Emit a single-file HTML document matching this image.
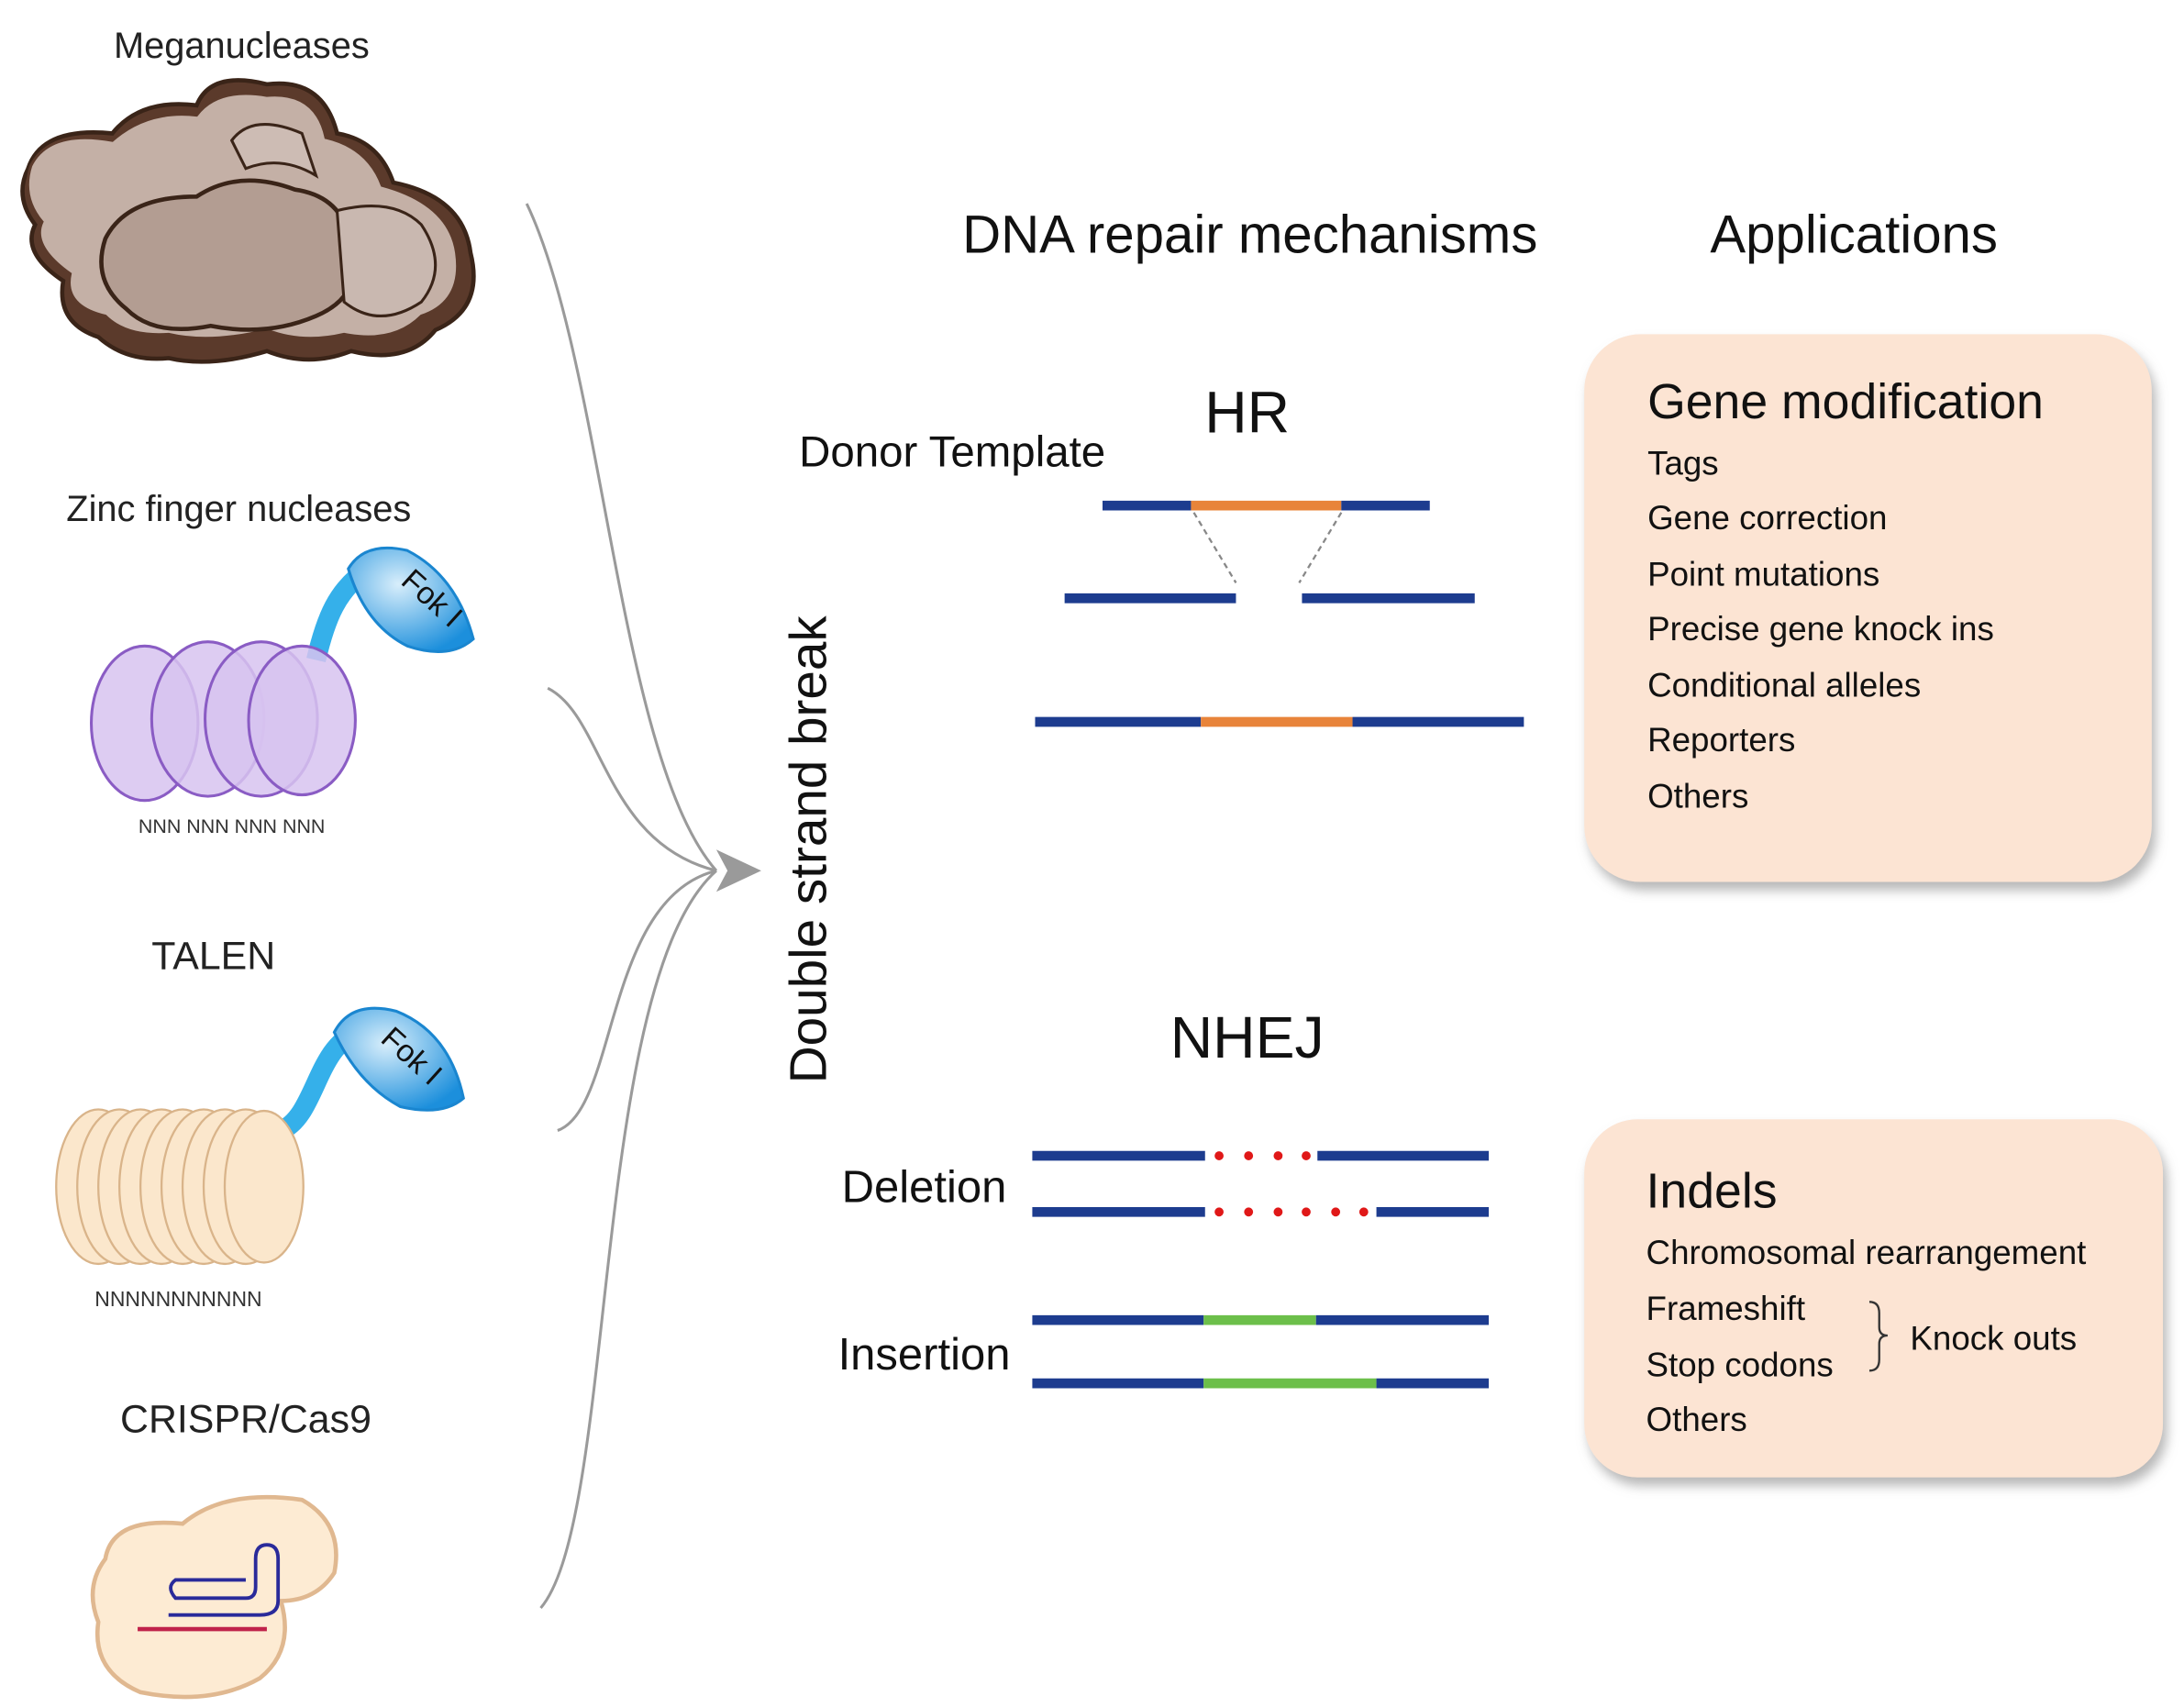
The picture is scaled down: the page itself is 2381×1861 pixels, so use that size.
<!DOCTYPE html>
<html><head><meta charset="utf-8"><style>
html,body{margin:0;padding:0;background:#fff;width:2381px;height:1861px;overflow:hidden}
svg{display:block}
text{font-family:"Liberation Sans",sans-serif}
</style></head><body>
<svg width="2381" height="1861" viewBox="0 0 1555 1215.5" preserveAspectRatio="none" xmlns="http://www.w3.org/2000/svg">
<defs>
<filter id="sh" x="-10%" y="-10%" width="125%" height="130%"><feDropShadow dx="3" dy="6" stdDeviation="4" flood-color="#888" flood-opacity="0.6"/></filter>
<radialGradient id="fok" cx="40%" cy="35%" r="70%"><stop offset="0" stop-color="#d8eefb"/><stop offset="1" stop-color="#1c8fdc"/></radialGradient>
</defs>
<text x="172" y="41" font-size="26" text-anchor="middle" fill="#222">Meganucleases</text>
<text x="170" y="371" font-size="26" text-anchor="middle" fill="#222">Zinc finger nucleases</text>
<text x="152" y="690" font-size="28" text-anchor="middle" fill="#222">TALEN</text>
<text x="175" y="1020" font-size="28" text-anchor="middle" fill="#222">CRISPR/Cas9</text>

<g stroke="#3a2418" stroke-width="3">
<path d="M20 120 Q30 90 80 95 Q100 70 140 75 Q150 50 190 60 Q230 55 240 95 Q270 100 280 130 Q330 140 335 180 Q345 220 310 235 Q290 260 250 250 Q220 262 190 250 Q150 262 120 255 Q90 258 70 240 Q40 230 45 200 Q15 180 25 160 Q10 140 20 120Z" fill="#5b3a2b"/>
<path d="M22 118 Q35 92 80 100 Q105 78 140 82 Q155 62 190 68 Q225 65 232 98 Q262 105 272 132 Q320 145 325 180 Q330 215 300 225 Q280 245 245 238 Q215 245 190 235 Q150 245 120 238 Q90 240 75 225 Q45 218 50 195 Q22 175 30 158 Q15 140 22 118Z" fill="#c4b0a6" stroke="#5b3a2b" stroke-width="2"/>
<path d="M75 170 Q90 140 140 140 Q170 120 210 135 Q245 140 250 175 Q260 210 225 225 Q190 240 150 232 Q110 240 90 220 Q65 200 75 170Z" fill="#b39d92" stroke="#3a2418"/>
<path d="M165 100 Q180 80 215 95 L225 125 Q200 110 175 120Z" fill="#cdbcb4" stroke="#3a2418" stroke-width="2"/>
<path d="M240 150 Q280 140 300 160 Q320 190 300 215 Q270 235 245 215Z" fill="#c9b8b0" stroke="#3a2418" stroke-width="2"/>
</g>

<path d="M225 470 C232 440 240 420 262 405" stroke="#35b0ea" stroke-width="14" fill="none"/>
<path d="M248 405 Q260 385 290 392 Q325 410 337 455 Q320 470 290 460 Q260 445 248 405Z" fill="url(#fok)" stroke="#1a86d0" stroke-width="2"/>
<text x="278" y="418" font-size="22" fill="#111" transform="rotate(42 285 425)">Fok I</text>
<g fill="#d7c3f0" fill-opacity="0.85" stroke="#8a5cc4" stroke-width="2">
<ellipse cx="103" cy="515" rx="38" ry="55"/>
<ellipse cx="148" cy="512" rx="40" ry="55"/>
<ellipse cx="186" cy="512" rx="40" ry="55"/>
<ellipse cx="215" cy="513" rx="38" ry="53"/>
</g>
<text x="165" y="593" font-size="14" text-anchor="middle" fill="#333">NNN NNN NNN NNN</text>

<path d="M200 805 C225 795 225 745 255 735" stroke="#35b0ea" stroke-width="14" fill="none"/>
<path d="M238 735 Q250 712 282 720 Q320 735 330 782 Q315 795 285 788 Q255 772 238 735Z" fill="url(#fok)" stroke="#1a86d0" stroke-width="2"/>
<text x="262" y="748" font-size="22" fill="#111" transform="rotate(42 275 755)">Fok I</text>
<g fill="#fbe7cc" stroke="#d9b48a" stroke-width="1.5">
<ellipse cx="70" cy="845" rx="30" ry="55"/><ellipse cx="85" cy="845" rx="30" ry="55"/><ellipse cx="100" cy="845" rx="30" ry="55"/><ellipse cx="115" cy="845" rx="30" ry="55"/><ellipse cx="130" cy="845" rx="30" ry="55"/><ellipse cx="145" cy="845" rx="30" ry="55"/><ellipse cx="160" cy="845" rx="30" ry="55"/><ellipse cx="175" cy="845" rx="30" ry="55"/><ellipse cx="188" cy="845" rx="28" ry="54"/>
</g>
<text x="127" y="930" font-size="15" text-anchor="middle" fill="#333">NNNNNNNNNNN</text>

<path d="M75 1110 Q80 1080 130 1085 Q160 1060 215 1068 Q245 1085 238 1120 Q225 1140 200 1140 Q210 1175 185 1195 Q150 1215 100 1205 Q65 1190 70 1155 Q60 1130 75 1110Z" fill="#fdebd3" stroke="#e0b890" stroke-width="3"/>
<path d="M98 1160 L190 1160" stroke="#c0224a" stroke-width="3"/>
<path d="M120 1150 L185 1150 Q198 1150 198 1140 L198 1110 Q198 1100 190 1100 Q182 1100 182 1110 L182 1130 Q182 1138 175 1138 L125 1138 Q118 1130 125 1125 L175 1125" stroke="#2a2a9a" stroke-width="2.5" fill="none"/>

<g stroke="#9a9a9a" stroke-width="2" fill="none">
<path d="M375 145 C430 260 440 540 510 620"/>
<path d="M390 490 C430 510 430 600 510 620"/>
<path d="M397 805 C440 790 430 640 510 620"/>
<path d="M385 1145 C440 1080 420 700 510 620"/>
</g>
<path d="M510 605 L542 620 L510 635 L518 620Z" fill="#9a9a9a"/>

<text transform="translate(588 605) rotate(-90)" font-size="37" text-anchor="middle" fill="#111">Double strand break</text>

<text x="890" y="180" font-size="38" text-anchor="middle" fill="#111">DNA repair mechanisms</text>
<text x="1320" y="180" font-size="38" text-anchor="middle" fill="#111">Applications</text>

<text x="888" y="308" font-size="42" text-anchor="middle" fill="#111">HR</text>
<text x="678" y="332" font-size="31" text-anchor="middle" fill="#111">Donor Template</text>
<g stroke-width="7">
<line x1="785" y1="360" x2="848" y2="360" stroke="#1d3c8f"/>
<line x1="848" y1="360" x2="955" y2="360" stroke="#e8843a"/>
<line x1="955" y1="360" x2="1018" y2="360" stroke="#1d3c8f"/>
<line x1="758" y1="426" x2="880" y2="426" stroke="#1d3c8f"/>
<line x1="927" y1="426" x2="1050" y2="426" stroke="#1d3c8f"/>
<line x1="737" y1="514" x2="855" y2="514" stroke="#1d3c8f"/>
<line x1="855" y1="514" x2="963" y2="514" stroke="#e8843a"/>
<line x1="963" y1="514" x2="1085" y2="514" stroke="#1d3c8f"/>
</g>
<g stroke="#888" stroke-width="1.5" stroke-dasharray="4 3">
<line x1="850" y1="365" x2="880" y2="415"/>
<line x1="955" y1="365" x2="925" y2="415"/>
</g>

<rect x="1128" y="238" width="404" height="390" rx="40" fill="#fce4d3" filter="url(#sh)"/>
<g fill="#111">
<text x="1173" y="298" font-size="35">Gene modification</text>
<text x="1173" y="338" font-size="24">Tags</text>
<text x="1173" y="377" font-size="24">Gene correction</text>
<text x="1173" y="417" font-size="24">Point mutations</text>
<text x="1173" y="456" font-size="24">Precise gene knock ins</text>
<text x="1173" y="496" font-size="24">Conditional alleles</text>
<text x="1173" y="535" font-size="24">Reporters</text>
<text x="1173" y="575" font-size="24">Others</text>
</g>

<text x="888" y="753" font-size="42" text-anchor="middle" fill="#111">NHEJ</text>
<text x="658" y="856" font-size="32" text-anchor="middle" fill="#111">Deletion</text>
<text x="658" y="975" font-size="32" text-anchor="middle" fill="#111">Insertion</text>
<g stroke-width="7">
<line x1="735" y1="823" x2="858" y2="823" stroke="#1d3c8f"/>
<line x1="938" y1="823" x2="1060" y2="823" stroke="#1d3c8f"/>
<line x1="735" y1="863" x2="858" y2="863" stroke="#1d3c8f"/>
<line x1="980" y1="863" x2="1060" y2="863" stroke="#1d3c8f"/>
<line x1="735" y1="940" x2="857" y2="940" stroke="#1d3c8f"/>
<line x1="857" y1="940" x2="937" y2="940" stroke="#6cbf4a"/>
<line x1="937" y1="940" x2="1060" y2="940" stroke="#1d3c8f"/>
<line x1="735" y1="985" x2="857" y2="985" stroke="#1d3c8f"/>
<line x1="857" y1="985" x2="980" y2="985" stroke="#6cbf4a"/>
<line x1="980" y1="985" x2="1060" y2="985" stroke="#1d3c8f"/>
</g>
<g fill="#e01818">
<circle cx="868" cy="823" r="3.2"/><circle cx="889" cy="823" r="3.2"/><circle cx="910" cy="823" r="3.2"/><circle cx="930" cy="823" r="3.2"/>
<circle cx="868" cy="863" r="3.2"/><circle cx="889" cy="863" r="3.2"/><circle cx="910" cy="863" r="3.2"/><circle cx="930" cy="863" r="3.2"/><circle cx="951" cy="863" r="3.2"/><circle cx="971" cy="863" r="3.2"/>
</g>

<rect x="1128" y="797" width="412" height="255" rx="38" fill="#fce4d3" filter="url(#sh)"/>
<g fill="#111">
<text x="1172" y="860" font-size="35">Indels</text>
<text x="1172" y="900" font-size="24">Chromosomal rearrangement</text>
<text x="1172" y="940" font-size="24">Frameshift</text>
<text x="1172" y="980" font-size="24">Stop codons</text>
<text x="1172" y="1019" font-size="24">Others</text>
<text x="1360" y="961" font-size="24">Knock outs</text>
</g>
<path d="M1331 927 Q1338 927 1338 935 L1338 945 Q1338 951 1344 951 Q1338 951 1338 957 L1338 968 Q1338 976 1331 976" stroke="#333" stroke-width="1.5" fill="none"/>
</svg>
</body></html>
